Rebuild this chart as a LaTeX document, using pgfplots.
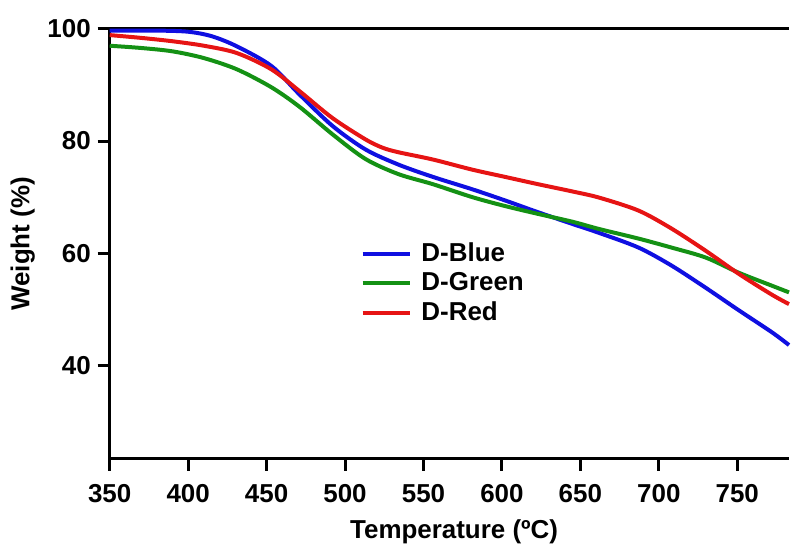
\documentclass[border=0pt]{standalone}
\usepackage{pgfplots}
\pgfplotsset{compat=1.18}
\usepackage{fontspec}
\setmainfont{Liberation Sans}
\definecolor{cblue}{RGB}{15,15,225}
\definecolor{cgreen}{RGB}{20,145,20}
\definecolor{cred}{RGB}{230,20,20}
\begin{document}
\begin{tikzpicture}
\begin{axis}[
  scale only axis,
  width=340.5pt, height=215.5pt,
  xmin=350, xmax=783, ymin=23.3, ymax=100,
  axis x line*=box, axis y line*=left,
  axis line style={line width=1.5pt, black},
  xtick={350,400,...,750}, ytick={40,60,80,100},
  xtick pos=left, ytick pos=left,
  tick align=outside,
  major tick length=6pt,
  every tick/.style={line width=1.5pt, black},
  /pgf/number format/assume math mode=true,
  /pgf/number format/1000 sep={},
  font=\bfseries\fontsize{13}{15}\selectfont,
  ticklabel style={font=\bfseries\fontsize{13}{15}\selectfont},
  xticklabel style={yshift=-3.5pt},
  xlabel={Temperature (ºC)},
  ylabel={Weight (\%)},
  xlabel style={at={(axis description cs:0.507,-0.1856)}, anchor=base},
  ylabel style={at={(axis description cs:-0.128,0.5)}, anchor=center},
  legend style={draw=none, fill=none, at={(axis description cs:0.36,0.522)}, anchor=north west,
    font=\bfseries\fontsize{13}{15}\selectfont, row sep=0pt, cells={anchor=west}},
  legend image code/.code={\draw[#1] (0pt,0pt) -- (23.5pt,0pt); \path (26.5pt,0pt);},
  clip=false,
]
\addplot[cblue, line width=2pt, smooth] coordinates {
(350,99.7) (380,99.7) (400,99.5) (415,98.7) (431,96.9) (453,93.4) (471,88.3) (492,82.7) (513,78.5) (534,75.8) (556,73.6) (581,71.4) (602,69.4) (623,67.3) (645,65.2) (662,63.6) (687,61.0) (708,57.8) (730,53.8) (751,49.8) (772,45.9) (783,43.6)
};
\addlegendentry{D-Blue}
\addplot[cgreen, line width=2pt, smooth] coordinates {
(350,97.0) (370,96.6) (390,96.0) (410,94.8) (431,92.8) (453,89.6) (471,86.1) (492,81.2) (513,76.8) (534,74.1) (556,72.3) (581,70.0) (602,68.4) (623,67.0) (645,65.6) (662,64.3) (687,62.6) (708,61.0) (730,59.2) (751,56.5) (772,54.2) (783,53.0)
};
\addlegendentry{D-Green}
\addplot[cred, line width=2pt, smooth] coordinates {
(350,98.9) (370,98.4) (390,97.8) (410,97.0) (431,95.7) (453,92.8) (471,88.9) (492,84.1) (513,80.3) (524,78.8) (534,78.0) (556,76.7) (581,74.9) (602,73.6) (623,72.3) (645,71.0) (662,69.9) (687,67.6) (708,64.4) (730,60.4) (751,56.3) (772,52.6) (783,50.9)
};
\addlegendentry{D-Red}
\coordinate (tl) at (rel axis cs:-0.1615,1.0673);
\coordinate (br) at (rel axis cs:1.0,-0.204);
\end{axis}
\path[use as bounding box] (tl) rectangle (br);
\end{tikzpicture}
\end{document}
